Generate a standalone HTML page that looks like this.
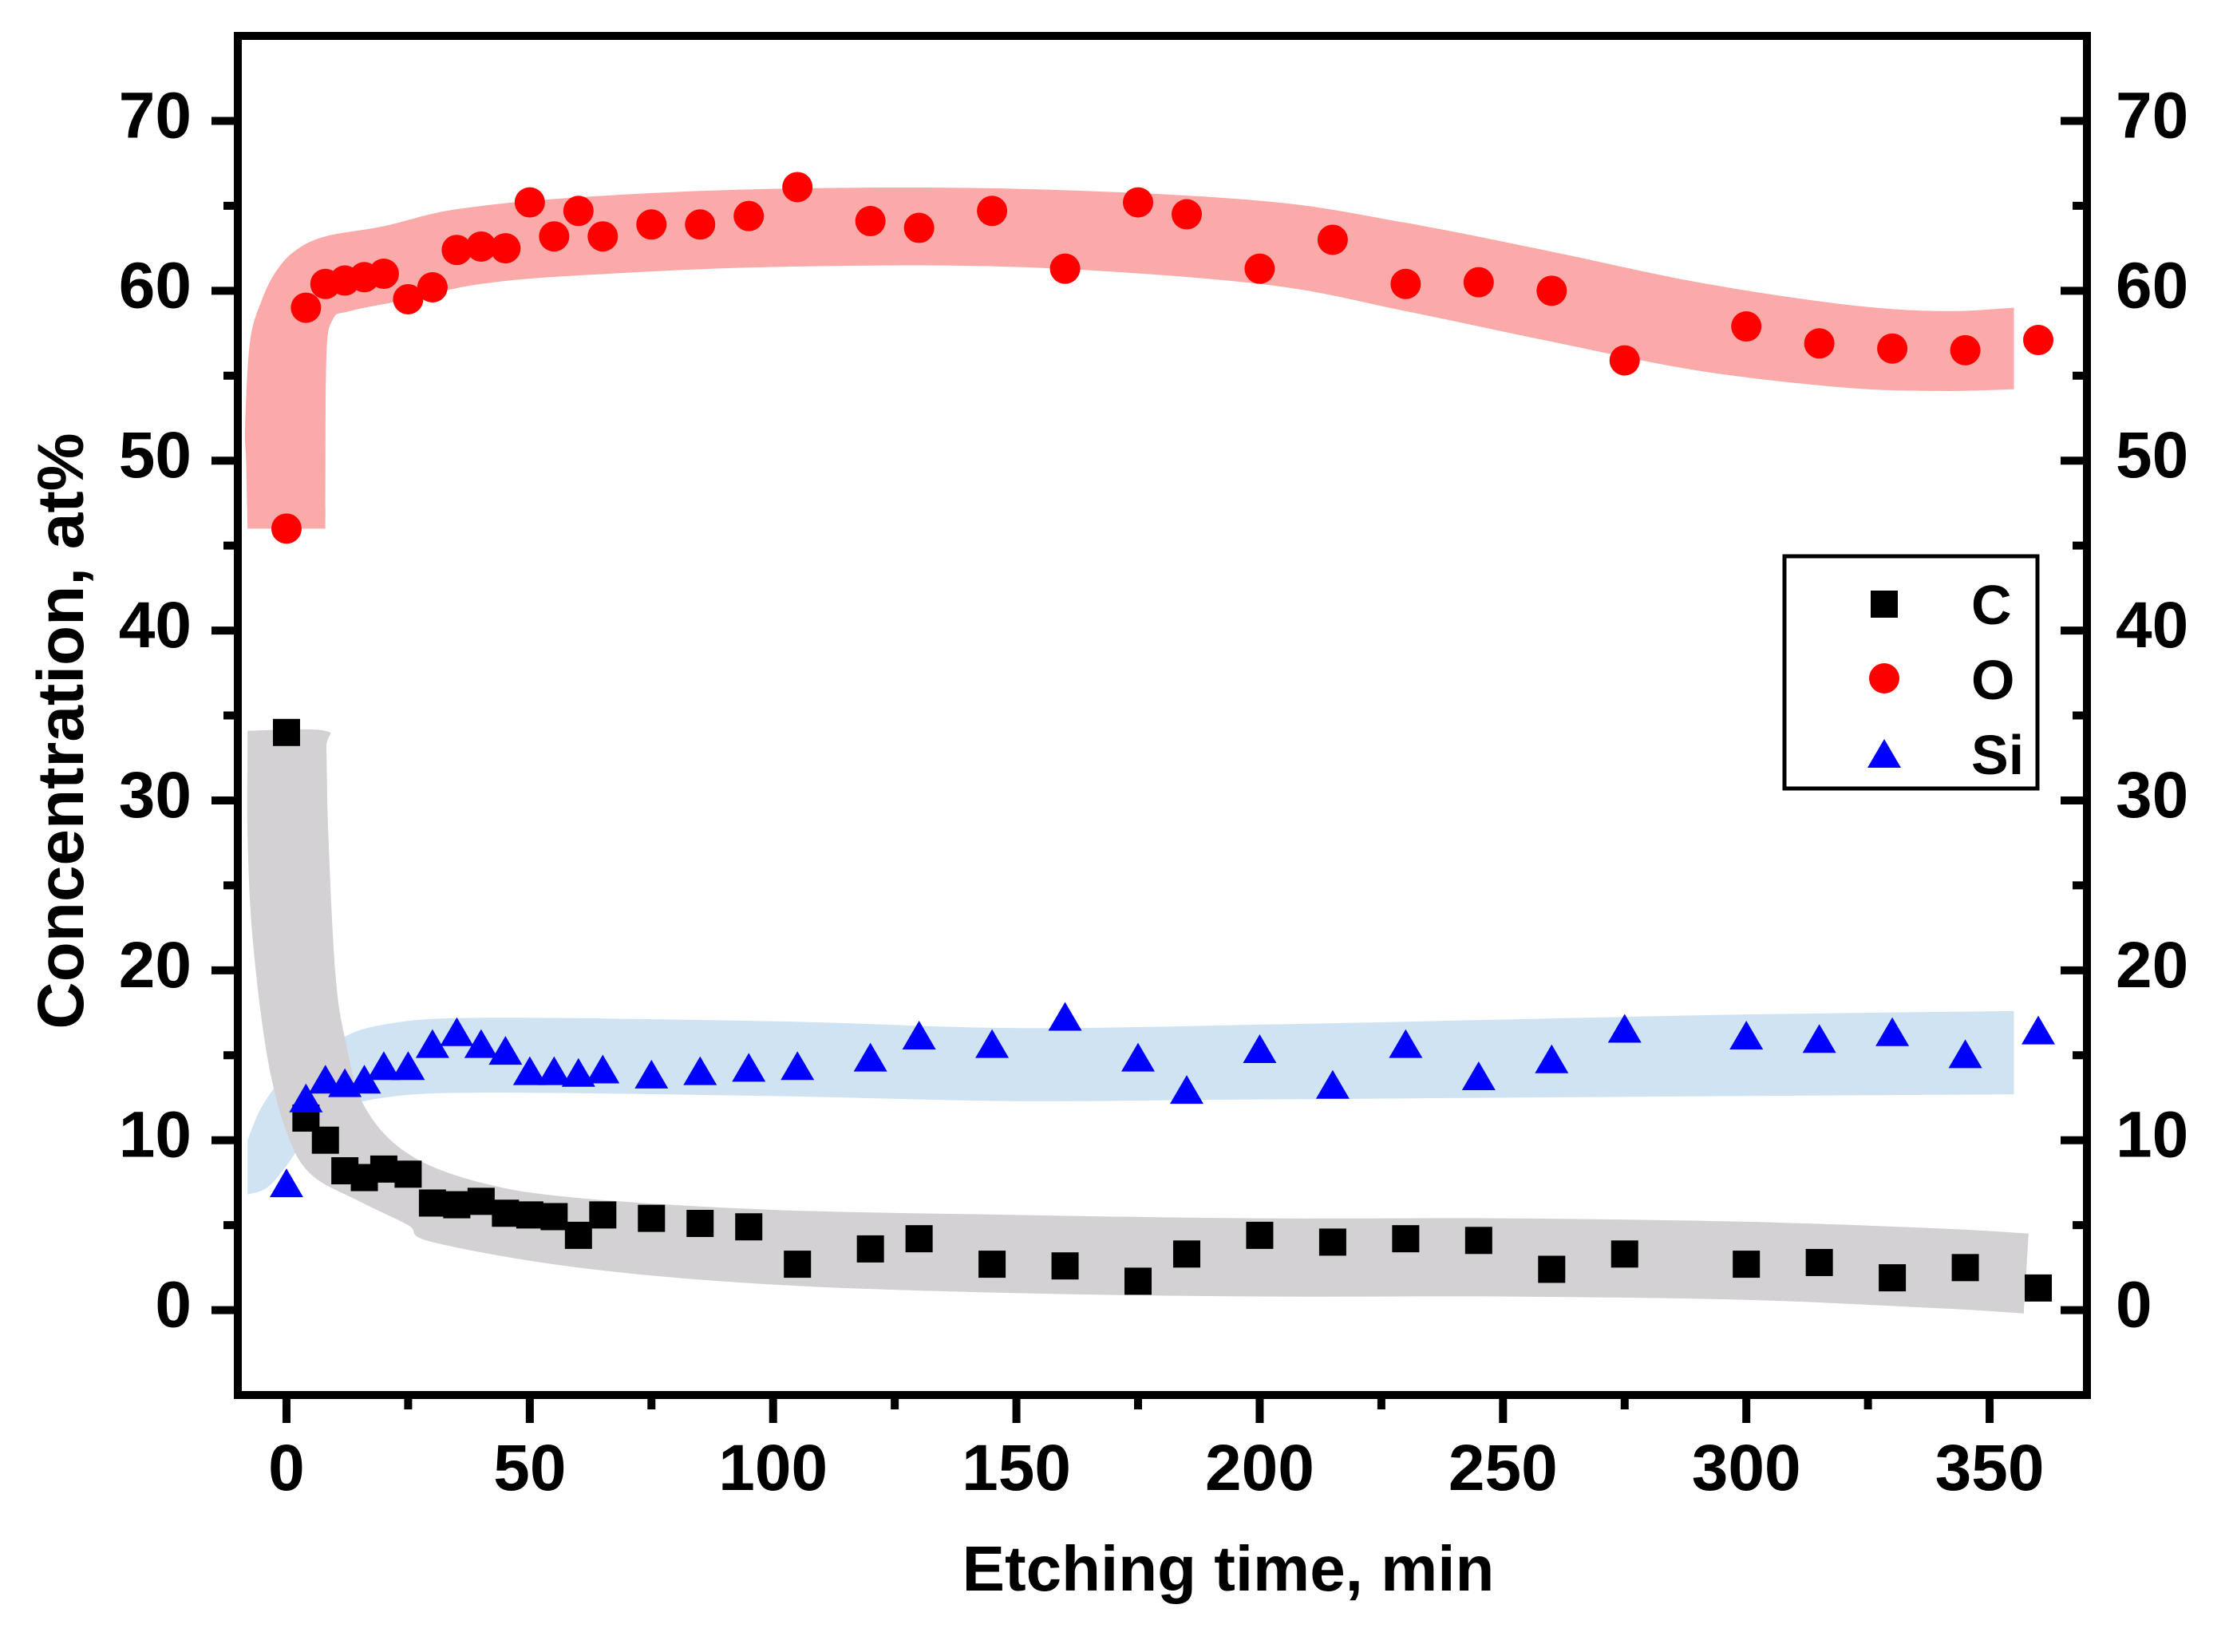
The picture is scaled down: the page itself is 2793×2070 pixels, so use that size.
<!DOCTYPE html>
<html><head><meta charset="utf-8"><style>
html,body{margin:0;padding:0;background:#fff}
svg{display:block}
text{font-family:"Liberation Sans",Arial,sans-serif;font-weight:bold;fill:#000}
</style></head><body>
<svg id="chart" width="2793" height="2070" viewBox="0 0 2793 2070" xmlns="http://www.w3.org/2000/svg">
<g id="bands"></g>
<g id="marks"></g>
<g id="axes"></g>
<text x="1539" y="1993" font-size="80" text-anchor="middle">Etching time, min</text>
<text transform="translate(104,916) rotate(-90)" font-size="82" text-anchor="middle">Concentration, at%</text>
<g>
<rect x="2236" y="697" width="317" height="291" fill="#fff" stroke="#000" stroke-width="5"/>
<rect x="2344" y="740" width="34" height="34" fill="#000"/>
<text x="2470" y="782" font-size="70">C</text>
<circle cx="2361" cy="850" r="19" fill="#ff0000"/>
<text x="2470" y="876" font-size="70">O</text>
<polygon points="2361,926 2382,962 2340,962" fill="#0000ff"/>
<text x="2470" y="970" font-size="70">Si</text>
</g>
</svg>
<script>
const timesC = [0,4,8,12,16,20,25,30,35,40,45,50,55,60,65,75,85,95,105,120,130,145,160,175,185,200,215,230,245,260,275,300,315,330,345,360];
const valuesC = [34,11.3,10,8.2,7.8,8.3,8,6.3,6.2,6.4,5.7,5.6,5.5,4.4,5.6,5.4,5.1,4.9,2.7,3.6,4.2,2.7,2.6,1.7,3.3,4.4,4,4.2,4.1,2.4,3.3,2.7,2.8,1.9,2.5,1.3];
const valuesO = [46,59,60.4,60.6,60.8,61,59.5,60.2,62.4,62.6,62.5,65.2,63.2,64.7,63.2,63.9,63.9,64.4,66.1,64.1,63.7,64.7,61.3,65.2,64.5,61.3,63,60.4,60.5,60,55.9,57.9,56.9,56.6,56.5,57.1];
const valuesSi = [7.3,12.3,13.4,13.2,13.4,14.2,14.2,15.5,16.2,15.5,15.1,13.9,13.9,13.8,14,13.7,13.9,14.1,14.2,14.7,16,15.5,17.1,14.7,12.8,15.2,13.1,15.5,13.6,14.6,16.4,16,15.8,16.2,14.9,16.3];
const bandOUpper = [[-8,46],[-8.3,50],[-8.5,52],[-7.5,57],[-5,59.5],[-2,61.2],[2,62.4],[8,63.2],[20,63.8],[35,64.8],[60,65.5],[100,66],[150,66],[200,65.3],[230,64],[260,62.3],[290,60.5],[320,59.2],[340,58.8],[355,59]];
const bandOLower = [[8,46],[8,47],[8.2,56],[9.5,58.3],[13,58.8],[25,59.5],[40,60.4],[60,60.9],[100,61.4],[150,61.4],[200,60.4],[230,58.8],[260,57],[290,55.3],[320,54.3],[340,54.1],[355,54.2]];
const bandCUpper = [[-8,34.1],[7.8,34.1],[8.2,33],[8.6,28],[10,20],[12,16],[16,12],[25,9.2],[40,7.5],[60,6.6],[100,5.9],[150,5.6],[200,5.4],[250,5.4],[300,5.2],[340,4.8],[358,4.5]];
const bandCLower = [[-8,34.1],[-8,33],[-8,28],[-7,22],[-4,15],[0,10.5],[5,8],[15,6.4],[25,5],[30,4],[60,2.5],[100,1.5],[150,1],[200,0.8],[250,0.8],[300,0.6],[340,0.1],[357,-0.2]];
const bandSiUpper = [[-8,10],[-5,12],[0,13.8],[10,15.8],[20,16.8],[40,17.2],[100,17],[150,16.6],[200,16.8],[250,17.1],[300,17.4],[355,17.6]];
const bandSiLower = [[-8,6.8],[-4,7.2],[0,8.5],[5,10.5],[10,11.7],[20,12.5],[40,12.8],[100,12.6],[150,12.3],[200,12.4],[300,12.6],[355,12.7]];
const xTicks = [0,50,100,150,200,250,300,350];
const yTicks = [0,10,20,30,40,50,60,70];

const NS='http://www.w3.org/2000/svg';
const X0=298,X1=2615,Y0=1748,Y1=45,XMIN=-10,XMAX=370,YMIN=-5,YMAX=75;
function sx(v){return X0+(v-XMIN)/(XMAX-XMIN)*(X1-X0);}
function sy(v){return Y0-(v-YMIN)/(YMAX-YMIN)*(Y0-Y1);}
function mk(tag,attrs,parent){const e=document.createElementNS(NS,tag);for(const k in attrs)e.setAttribute(k,attrs[k]);parent.appendChild(e);return e;}
const bands=document.getElementById('bands'),marks=document.getElementById('marks'),axes=document.getElementById('axes');
function smooth(p,start){
  let d=start?('M'+p[0][0]+','+p[0][1]):('L'+p[0][0]+','+p[0][1]);
  for(let i=0;i<p.length-1;i++){
    const p0=p[Math.max(i-1,0)],p1=p[i],p2=p[i+1],p3=p[Math.min(i+2,p.length-1)];
    const c1x=p1[0]+(p2[0]-p0[0])/6,c1y=p1[1]+(p2[1]-p0[1])/6;
    const c2x=p2[0]-(p3[0]-p1[0])/6,c2y=p2[1]-(p3[1]-p1[1])/6;
    d+=` C${c1x},${c1y} ${c2x},${c2y} ${p2[0]},${p2[1]}`;
  }
  return d;
}
function band(up,lo,color,name){
  const U=up.map(p=>[sx(p[0]),sy(p[1])]);
  const L=lo.slice().reverse().map(p=>[sx(p[0]),sy(p[1])]);
  const d=smooth(U,true)+' '+smooth(L,false)+' Z';
  const e=mk('path',{d:d,fill:color},bands);
  
  
}
band(bandOUpper,bandOLower,'#fbaaaa','band-o');
band(bandSiUpper,bandSiLower,'#cfe3f3','band-si');
band(bandCUpper,bandCLower,'#d3d1d3','band-c');
timesC.forEach((t,i)=>{
  const e=mk('rect',{x:sx(t)-17,y:sy(valuesC[i])-17,width:34,height:34,fill:'#000'},marks);
  
  
});
timesC.forEach((t,i)=>{
  const e=mk('circle',{cx:sx(t),cy:sy(valuesO[i]),r:19,fill:'#ff0000'},marks);
  
  
});
timesC.forEach((t,i)=>{
  const x=sx(t),y=sy(valuesSi[i]);
  const e=mk('polygon',{points:`${x},${y-22} ${x+21},${y+14} ${x-21},${y+14}`,fill:'#0000ff'},marks);
  
  
});
const frame=mk('rect',{x:X0,y:Y1,width:X1-X0,height:Y0-Y1,fill:'none',stroke:'#000','stroke-width':10},axes);


xTicks.forEach(v=>{
  const x=sx(v);
  mk('line',{x1:x,y1:Y0,x2:x,y2:Y0+35,stroke:'#000','stroke-width':10},axes);
  const t=mk('text',{x:x,y:1867,'font-size':82,'text-anchor':'middle'},axes);
  t.textContent=v;
  
  
});
for(let v=25;v<370;v+=50){const x=sx(v);mk('line',{x1:x,y1:Y0,x2:x,y2:Y0+18,stroke:'#000','stroke-width':10},axes);}
yTicks.forEach(v=>{
  const y=sy(v);
  mk('line',{x1:X0,y1:y,x2:X0-33,y2:y,stroke:'#000','stroke-width':10},axes);
  mk('line',{x1:X1,y1:y,x2:X1-33,y2:y,stroke:'#000','stroke-width':10},axes);
  const t=mk('text',{x:240,y:y+21,'font-size':82,'text-anchor':'end'},axes);
  t.textContent=v;
  
  
  const t2=mk('text',{x:2651,y:y+21,'font-size':82,'text-anchor':'start'},axes);
  t2.textContent=v;
  
  
});
for(let v=5;v<75;v+=10){const y=sy(v);
  mk('line',{x1:X0,y1:y,x2:X0-18,y2:y,stroke:'#000','stroke-width':10},axes);
  mk('line',{x1:X1,y1:y,x2:X1-18,y2:y,stroke:'#000','stroke-width':10},axes);}
</script>
</body></html>
